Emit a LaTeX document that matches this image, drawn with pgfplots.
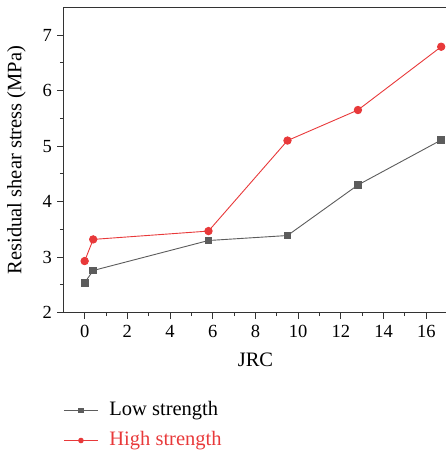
\documentclass[border=0pt]{standalone}
\usepackage{fontspec}
\setmainfont{Liberation Serif}
\usepackage{pgfplots}
\pgfplotsset{compat=1.18}
\definecolor{lowgray}{HTML}{5C5C5C}
\definecolor{highred}{HTML}{E8393A}
\definecolor{axisgray}{HTML}{333333}

\begin{document}
\begin{tikzpicture}
\begin{axis}[
  name=ax,
  scale only axis,
  width=384.3pt, height=305.4pt,
  xmin=-1, xmax=17, ymin=2, ymax=7.5,
  xtick={0,2,...,16}, ytick={2,3,...,7},
  xticklabels={0,2,4,6,8,10,12,14,16},
  yticklabels={2,3,4,5,6,7},
  minor x tick num=1, minor y tick num=1,
  tick pos=left, tick align=outside,
  major tick length=6pt, minor tick length=3.5pt,
  axis line style={axisgray, line width=1.1pt},
  tick style={axisgray, line width=0.9pt},
  tick label style={font=\fontsize{18.5}{18.5}\selectfont},
  xticklabel style={yshift=-3pt},
  yticklabel style={xshift=-2pt},
  label style={font=\fontsize{20.5}{20.5}\selectfont},
  xlabel={JRC},
  xlabel style={yshift=-8pt},
  ylabel={Residual shear stress (MPa)},
  ylabel style={yshift=10pt},
  legend style={at={(0,0)}, anchor=north west, yshift=-88.6pt,
    draw=none, fill=none, font=\fontsize{20.5}{20.5}\selectfont,
    row sep=12pt, column sep=11pt, inner sep=0pt,
    nodes={inner sep=0pt, text height=14pt, text depth=4pt}},
  legend cell align=left,
  legend image code/.code={
    \draw[mark repeat=2, mark phase=2, mark size=2.3pt]
      plot coordinates {(0pt,0pt) (17pt,0pt) (34pt,0pt)};},
]
\addplot[color=lowgray, line width=0.9pt, mark=square*, mark size=3.4pt,
  mark options={fill=lowgray, draw=lowgray}] coordinates {
  (0,2.54) (0.4,2.76) (5.8,3.30) (9.5,3.39) (12.8,4.30) (16.7,5.11)
};
\addplot[color=highred, line width=0.9pt, mark=*, mark size=3.7pt,
  mark options={fill=highred, draw=highred}] coordinates {
  (0,2.93) (0.4,3.32) (5.8,3.47) (9.5,5.10) (12.8,5.65) (16.7,6.79)
};
\legend{Low strength, \textcolor{highred}{High strength}}
\coordinate (cut) at (axis cs:16.88,2);
\end{axis}
\pgfresetboundingbox
\useasboundingbox ([shift={(-63.3pt,7.3pt)}]ax.north west) rectangle ([yshift=-140.3pt]cut);
\end{tikzpicture}
\end{document}
